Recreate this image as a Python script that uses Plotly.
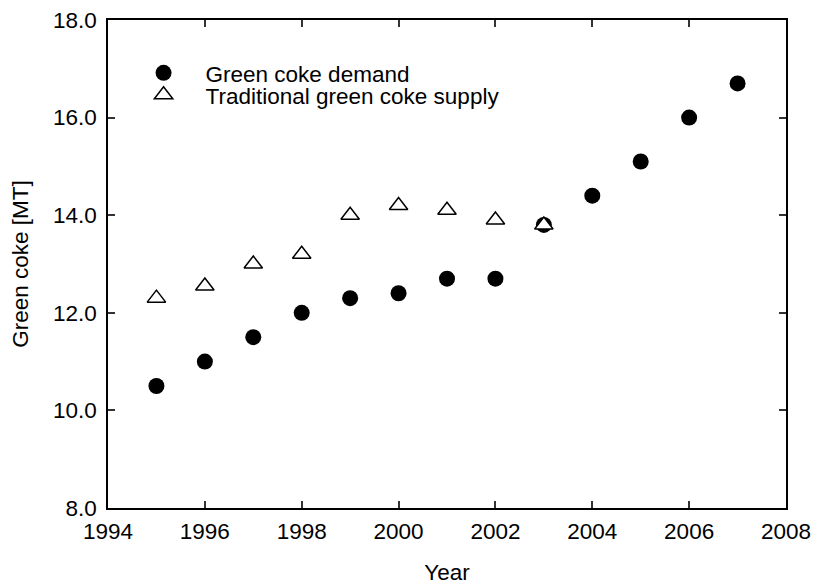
import plotly.graph_objects as go

years_demand = [1995, 1996, 1997, 1998, 1999, 2000, 2001, 2002, 2003, 2004, 2005, 2006, 2007]
demand = [10.5, 11.0, 11.5, 12.0, 12.3, 12.4, 12.7, 12.7, 13.8, 14.4, 15.1, 16.0, 16.7]

years_supply = [1995, 1996, 1997, 1998, 1999, 2000, 2001, 2002, 2003]
supply = [12.3, 12.55, 13.0, 13.2, 14.0, 14.2, 14.1, 13.9, 13.8]

x_ticks = [1994, 1996, 1998, 2000, 2002, 2004, 2006, 2008]
y_ticks = [8, 10, 12, 14, 16, 18]

FONT = "Liberation Sans, Arial, sans-serif"
FS = 22.5

fig = go.Figure()
fig.add_trace(go.Scatter(
    x=years_demand, y=demand, mode="markers", name="Green coke demand",
    marker=dict(symbol="circle", size=16, color="black", line=dict(width=0)),
    legend="legend",
))
fig.add_trace(go.Scatter(
    x=years_supply, y=supply, mode="markers", name="Traditional green coke supply",
    marker=dict(symbol="triangle-up", size=16, color="white", line=dict(width=1.5, color="black")),
    legend="legend2",
))

axis_common = dict(
    showline=True, linecolor="black", linewidth=1.5, mirror="ticks",
    ticks="inside", ticklen=7, tickwidth=1.5, tickcolor="#333",
    showgrid=False, zeroline=False, automargin=False,
    ticklabeloverflow="allow",
    tickfont=dict(family=FONT, size=FS, color="black"),
)

legend_common = dict(
    xanchor="left", yanchor="middle",
    font=dict(family=FONT, size=FS, color="black"),
    bgcolor="rgba(0,0,0,0)", itemwidth=74,
)

fig.update_layout(
    width=813, height=585,
    margin=dict(l=107.5, r=27.3, t=20, b=77),
    plot_bgcolor="white", paper_bgcolor="white",
    showlegend=True,
    legend=dict(x=0.02, y=0.891, **legend_common),
    legend2=dict(x=0.02, y=0.846, **legend_common),
    xaxis=dict(
        range=[1994, 2008], tickvals=x_ticks, ticktext=[str(v) for v in x_ticks],
        ticklabelstandoff=2,
        title=dict(text="Year", font=dict(family=FONT, size=FS, color="black"), standoff=24),
        **axis_common,
    ),
    yaxis=dict(
        range=[8, 18], tickvals=y_ticks, ticktext=[f"{v:.1f}" for v in y_ticks],
        ticklabelstandoff=5,
        title=dict(text="Green coke [MT]", font=dict(family=FONT, size=FS, color="black"), standoff=18),
        **axis_common,
    ),
)

# remove the default page margin so the 813x585 figure fills the window exactly
fig.write_html(
    "out.html",
    config={"displayModeBar": False},
    post_script="document.body.style.margin='0';document.body.style.overflow='hidden';",
)
